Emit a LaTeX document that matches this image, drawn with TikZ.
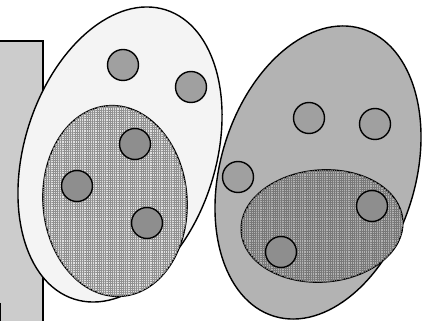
\documentclass[tikz,border=0pt]{standalone}
\usetikzlibrary{patterns.meta}
\definecolor{rectgray}{HTML}{CCCCCC}
\definecolor{paleone}{HTML}{F4F4F4}
\definecolor{greytwo}{HTML}{B3B3B3}
\definecolor{dotgray}{HTML}{A0A0A0}
\definecolor{dotdark}{HTML}{8E8E8E}
\definecolor{texone}{HTML}{E0E0E0}
\definecolor{textwo}{HTML}{B2B2B2}
\definecolor{lineone}{HTML}{909090}
\definecolor{linetwo}{HTML}{787878}
\tikzset{
  outl/.style={draw=black, line width=1.4pt},
  bigset/.style={outl},
  texset/.style={outl, postaction={pattern={Hatch[angle=0, distance=2.2pt, line width=0.25pt]}, pattern color=#1}},
  dot/.style={outl, circle, minimum size=31pt, inner sep=0pt},
}
\begin{document}
\begin{tikzpicture}[x=1pt,y=1pt]
\useasboundingbox (0,0) rectangle (423,321);
\clip (0,0) rectangle (423,321);
% left rectangle
\draw[outl, fill=rectgray] (-5,280) rectangle (43,-5);
\draw[line width=1.5pt] (0.7,18) -- (0.7,-3);
% big set 1
\draw[bigset, fill=paleone] (120,166.5) ellipse [x radius=95.7, y radius=151.7, rotate=-17.5];
\node[dot, fill=dotgray] (a1) at (123,256) {};
\node[dot, fill=dotgray] (a2) at (191,234) {};
\draw[texset=lineone, fill=texone] (115,120) ellipse [x radius=72, y radius=95.5, rotate=4];
\node[dot, fill=dotdark] (a3) at (135,177) {};
\node[dot, fill=dotdark] (a4) at (77,135) {};
\node[dot, fill=dotdark] (a5) at (147,98) {};
% big set 2
\draw[bigset, fill=greytwo] (318,148.5) ellipse [x radius=97.4, y radius=150.3, rotate=-17];
\node[dot, fill=dotgray] (b1) at (309,203) {};
\node[dot, fill=dotgray] (b2) at (375,197) {};
\node[dot, fill=dotgray] (b3) at (238,144) {};
\draw[texset=linetwo, fill=textwo] (322,95) ellipse [x radius=81, y radius=56, rotate=4];
\node[dot, fill=dotdark] (b4) at (372,115) {};
\node[dot, fill=dotdark] (b5) at (281,69) {};
\end{tikzpicture}
\end{document}
